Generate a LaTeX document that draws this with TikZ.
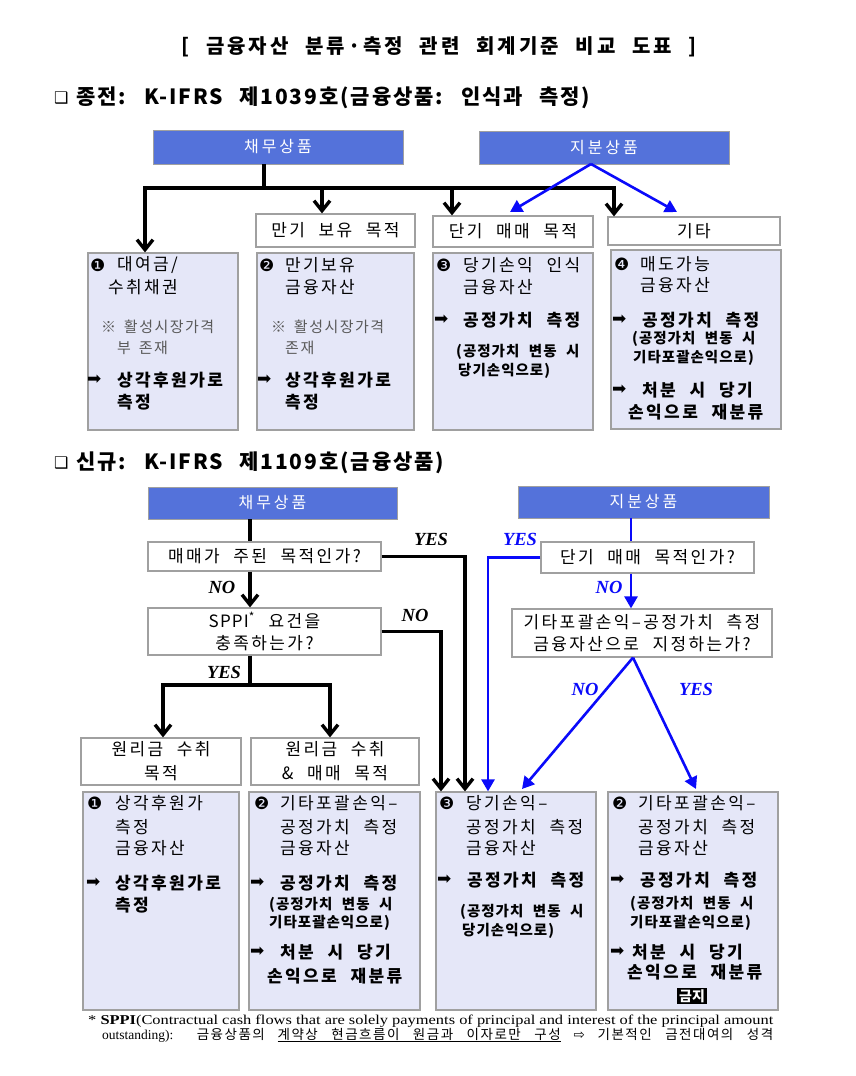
\documentclass[tikz,border=0pt]{standalone}
\usepackage{graphicx}
\usepackage{fontspec}
\setmainfont{Liberation Serif}
\newfontfamily\kr[WordSpace=2.5]{Noto Sans CJK KR}
\newfontfamily\krs[WordSpace=2.2,LetterSpace=14]{Noto Sans CJK KR}
\newfontfamily\krn[WordSpace=1.6,LetterSpace=10]{Noto Sans CJK KR}
\newfontfamily\krp[WordSpace=2.2,LetterSpace=7]{Noto Sans CJK KR}
\newfontfamily\krb[WordSpace=2.2,LetterSpace=18]{Noto Sans CJK KR}
\newfontfamily\krt[WordSpace=2.2,LetterSpace=15]{Noto Sans CJK KR}
\newfontfamily\krh[WordSpace=2.4,LetterSpace=9]{Noto Sans CJK KR}
\newfontfamily\krf[WordSpace=3,LetterSpace=11]{Noto Sans CJK KR}
\newfontfamily\dv{DejaVu Sans}
\newfontfamily\tm{Liberation Serif}
\usetikzlibrary{arrows.meta}
\definecolor{bfill}{RGB}{84,114,218}
\definecolor{lav}{RGB}{229,231,248}
\definecolor{bord}{RGB}{160,160,160}
\definecolor{ablue}{RGB}{10,10,250}
\tikzset{
  bluebox/.style={draw=bord, fill=bfill, text=white, inner sep=0, line width=0.8pt,
    font=\krb\fontsize{16}{19}\selectfont},
  lbox/.style={draw=bord, fill=white, inner sep=0, line width=1.2pt, align=center,
    font=\krs\fontsize{17}{22}\selectfont},
  cbox/.style={draw=bord, fill=lav, inner sep=0, line width=1.2pt},
  t/.style={anchor=west, inner sep=0, font=\krs\fontsize{17}{19}\selectfont},
  tb/.style={anchor=west, inner sep=0, font=\krs\bfseries\fontsize{17}{19}\selectfont},
  tp/.style={anchor=west, inner sep=0, font=\krp\bfseries\fontsize{14.5}{16}\selectfont},
  tn/.style={anchor=west, inner sep=0, text=black!65, font=\krn\fontsize{15}{18}\selectfont},
  sy/.style={anchor=west, inner sep=0, font=\dv\fontsize{17}{19}\selectfont},
  yn/.style={inner sep=0, font=\tm\bfseries\itshape\fontsize{18.5}{20}\selectfont},
  bl/.style={line width=3.4pt},
  barrow/.style={bl, -{Straight Barb[length=10pt,width=16pt]}},
  blu/.style={draw=ablue, line width=2.6pt},
  bluarrow/.style={blu, -{Triangle[length=12pt,width=13pt]}},
}
\begin{document}
\begin{tikzpicture}[x=1pt,y=-1pt]
\useasboundingbox (0,0) rectangle (856,1076);
\fill[white] (0,0) rectangle (856,1076);

% titles
\node[inner sep=0, font=\krt\bfseries\fontsize{20}{23}\selectfont] (title) at (439,47) {[ 금융자산 분류·측정 관련 회계기준 비교 도표 ]};
\node[sy, font=\dv\fontsize{16}{18}\selectfont] (h1s) at (54,98) {❑};
\node[anchor=west, inner sep=0, font=\krh\bfseries\fontsize{21}{24}\selectfont] (h1) at (76,98) {종전: K-IFRS 제1039호(금융상품: 인식과 측정)};
\node[sy, font=\dv\fontsize{16}{18}\selectfont] (h2s) at (54,463) {❑};
\node[anchor=west, inner sep=0, font=\krh\bfseries\fontsize{21}{24}\selectfont] (h2) at (76,463) {신규: K-IFRS 제1109호(금융상품)};

% ===== top section =====
\node[bluebox, minimum width=250pt, minimum height=34pt] (D1) at (278,147) {채무상품};
\node[bluebox, minimum width=250pt, minimum height=33pt] (E1) at (604,147.5) {지분상품};
\node[lbox, minimum width=159pt, minimum height=33pt] (L2) at (335.5,230.5) {만기 보유 목적};
\node[lbox, minimum width=160pt, minimum height=31pt] (L3) at (513,231.5) {단기 매매 목적};
\node[lbox, minimum width=172pt, minimum height=28pt] (L4) at (694,231) {기타};
\node[cbox, minimum width=150pt, minimum height=177pt] (C1) at (163,341.5) {};
\node[cbox, minimum width=157pt, minimum height=177pt] (C2) at (335.5,341.5) {};
\node[cbox, minimum width=160pt, minimum height=177pt] (C3) at (513,341.5) {};
\node[cbox, minimum width=170pt, minimum height=179pt] (C4) at (696,339.5) {};

\coordinate (tj) at (264,188);
\coordinate (tl) at (145,188);
\coordinate (tr) at (614,188);
\coordinate (a2) at (322,188);
\coordinate (a3) at (452,188);
\draw[bl] (D1.south -| tj) -- (tj);
\draw[barrow] (tr) -- (tl) -- (tl |- C1.north);
\draw[barrow] (tl) -- (tr) -- (tr |- L4.north);
\draw[barrow] (a2) -- (a2 |- L2.north);
\draw[barrow] (a3) -- (a3 |- L3.north);
\coordinate (es) at (591,164);
\coordinate (b3) at (510,212);
\coordinate (b4) at (677,212);
\draw[bluarrow] (es) -- (b3);
\draw[bluarrow] (es) -- (b4);

% C1 text
\node[sy] (c1s) at (90,265) {❶};
\node[t] (c1a) at (117,265) {대여금/};
\node[t] (c1b) at (108,287) {수취채권};
\node[tn] (c1c) at (101,327) {※ 활성시장가격};
\node[tn] (c1d) at (117,348) {부 존재};
\node[sy] (c1e) at (87,380) {➡};
\node[tb] (c1f) at (117,380) {상각후원가로};
\node[tb] (c1g) at (117,402) {측정};
% C2 text
\node[sy] (c2s) at (259,265) {❷};
\node[t] (c2a) at (285,265) {만기보유};
\node[t] (c2b) at (285,287) {금융자산};
\node[tn] (c2c) at (271,327) {※ 활성시장가격};
\node[tn] (c2d) at (285,348) {존재};
\node[sy] (c2e) at (257,380) {➡};
\node[tb] (c2f) at (285,380) {상각후원가로};
\node[tb] (c2g) at (285,402) {측정};
% C3 text
\node[sy] (c3s) at (436,265) {❸};
\node[t] (c3a) at (463,265) {당기손익 인식};
\node[t] (c3b) at (463,287) {금융자산};
\node[sy] (c3e) at (434,320) {➡};
\node[tb] (c3f) at (463,320) {공정가치 측정};
\node[tp] (c3g) at (456,352) {(공정가치 변동 시};
\node[tp] (c3h) at (458,371) {당기손익으로)};
% C4 text
\node[sy] (c4s) at (614,264) {❹};
\node[t] (c4a) at (640,264) {매도가능};
\node[t] (c4b) at (640,285) {금융자산};
\node[sy] (c4e) at (612,320) {➡};
\node[tb] (c4f) at (642,320) {공정가치 측정};
\node[tp] (c4g) at (632,339) {(공정가치 변동 시};
\node[tp] (c4h) at (633,358) {기타포괄손익으로)};
\node[sy] (c4i) at (612,390) {➡};
\node[tb] (c4j) at (642,390) {처분 시 당기};
\node[tb] (c4k) at (628,412) {손익으로 재분류};

% ===== bottom section =====
\node[bluebox, minimum width=249pt, minimum height=32pt] (D2) at (272.5,503) {채무상품};
\node[bluebox, minimum width=251pt, minimum height=32pt] (E2) at (643.5,502) {지분상품};
\node[lbox, minimum width=233pt, minimum height=29pt] (Q1) at (264.5,556.5) {매매가 주된 목적인가?};
\node[lbox, minimum width=233pt, minimum height=47pt] (Q2) at (264.5,631.5) {{\krp SPPI\textsuperscript{*}} 요건을\\충족하는가?};
\node[lbox, minimum width=213pt, minimum height=31pt] (Q3) at (647.5,557.5) {단기 매매 목적인가?};
\node[lbox, minimum width=260pt, minimum height=48pt] (Q4) at (642,633) {기타포괄손익–공정가치 측정\\금융자산으로 지정하는가?};
\node[lbox, minimum width=160pt, minimum height=47pt, font=\krs\fontsize{17}{24}\selectfont] (L5) at (161,761.5) {원리금 수취\\목적};
\node[lbox, minimum width=168pt, minimum height=47pt, font=\krs\fontsize{17}{24}\selectfont] (L6) at (335,761.5) {원리금 수취\\\& 매매 목적};
\node[cbox, minimum width=156pt, minimum height=218pt] (C5) at (161,901) {};
\node[cbox, minimum width=171pt, minimum height=218pt] (C6) at (334.5,901) {};
\node[cbox, minimum width=160pt, minimum height=218pt] (C7) at (516,901) {};
\node[cbox, minimum width=170pt, minimum height=218pt] (C8) at (693,901) {};

% black connectors
\coordinate (v1) at (250,0);
\coordinate (y1) at (465,0);
\coordinate (n1) at (441,0);
\coordinate (s1) at (250,685);
\coordinate (s5) at (163,685);
\coordinate (s6) at (330,685);
\draw[bl] (D2.south -| v1) -- (Q1.north -| v1);
\draw[barrow] (Q1.south -| v1) -- (Q2.north -| v1);
\draw[barrow] (Q1.east) -- (Q1.east -| y1) -- (C7.north -| y1);
\draw[barrow] (Q2.east) -- (Q2.east -| n1) -- (C7.north -| n1);
\draw[bl] (Q2.south -| v1) -- (s1);
\draw[barrow] (s1) -- (s5) -- (s5 |- L5.north);
\draw[barrow] (s1) -- (s6) -- (s6 |- L6.north);
\node[yn] (lyes1) at (431,539) {YES};
\node[yn] (lno1) at (222,587) {NO};
\node[yn] (lno2) at (415,615) {NO};
\node[yn] (lyes2) at (224,672) {YES};

% blue connectors
\coordinate (v2) at (631,0);
\coordinate (y2) at (488,0);
\coordinate (v3) at (633,0);
\coordinate (n3) at (522,789);
\coordinate (y3) at (696,789);
\draw[blu] (E2.south -| v2) -- (Q3.north -| v2);
\draw[bluarrow] (Q3.south -| v2) -- (Q4.north -| v2);
\draw[bluarrow] (Q3.west) -- (Q3.west -| y2) -- (C7.north -| y2);
\draw[bluarrow] (Q4.south -| v3) -- (n3);
\draw[bluarrow] (Q4.south -| v3) -- (y3);
\node[yn, text=ablue] (byes1) at (520,539) {YES};
\node[yn, text=ablue] (bno1) at (609,587) {NO};
\node[yn, text=ablue] (bno2) at (585,689) {NO};
\node[yn, text=ablue] (byes2) at (696,689) {YES};

% C5 text
\node[sy] (c5s) at (87,803) {❶};
\node[t] (c5a) at (115,803) {상각후원가};
\node[t] (c5b) at (115,827) {측정};
\node[t] (c5c) at (115,848) {금융자산};
\node[sy] (c5e) at (86,883) {➡};
\node[tb] (c5f) at (115,883) {상각후원가로};
\node[tb] (c5g) at (115,905) {측정};
% C6 text
\node[sy] (c6s) at (254,803) {❷};
\node[t] (c6a) at (280,803) {기타포괄손익–};
\node[t] (c6b) at (280,827) {공정가치 측정};
\node[t] (c6c) at (280,848) {금융자산};
\node[sy] (c6e) at (250,883) {➡};
\node[tb] (c6f) at (280,883) {공정가치 측정};
\node[tp] (c6g) at (269,905) {(공정가치 변동 시};
\node[tp] (c6h) at (269,923) {기타포괄손익으로)};
\node[sy] (c6i) at (250,952) {➡};
\node[tb] (c6j) at (280,952) {처분 시 당기};
\node[tb] (c6k) at (267,976) {손익으로 재분류};
% C7 text
\node[sy] (c7s) at (439,803) {❸};
\node[t] (c7a) at (466,803) {당기손익–};
\node[t] (c7b) at (466,827) {공정가치 측정};
\node[t] (c7c) at (466,848) {금융자산};
\node[sy] (c7e) at (437,880) {➡};
\node[tb] (c7f) at (467,880) {공정가치 측정};
\node[tp] (c7g) at (460,912) {(공정가치 변동 시};
\node[tp] (c7h) at (462,931) {당기손익으로)};
% C8 text
\node[sy] (c8s) at (612,803) {❷};
\node[t] (c8a) at (638,803) {기타포괄손익–};
\node[t] (c8b) at (638,827) {공정가치 측정};
\node[t] (c8c) at (638,848) {금융자산};
\node[sy] (c8e) at (610,880) {➡};
\node[tb] (c8f) at (640,880) {공정가치 측정};
\node[tp] (c8g) at (630,904) {(공정가치 변동 시};
\node[tp] (c8h) at (630,923) {기타포괄손익으로)};
\node[sy] (c8i) at (610,952) {➡};
\node[tb] (c8j) at (632,952) {처분 시 당기};
\node[tb] (c8k) at (627,972) {손익으로 재분류};
\node[fill=black, text=white, inner xsep=2pt, inner ysep=1pt, font=\kr\bfseries\fontsize{14}{16}\selectfont] (ban) at (692,996) {금지};

% footnote
\node[anchor=west, inner sep=0, font=\fontsize{13.5}{15}\selectfont] (f1) at (88,1021)
  {\resizebox{685pt}{\height}{* \textbf{SPPI}(Contractual cash flows that are solely payments of principal and interest of the principal amount}};
\node[anchor=west, inner sep=0, font=\fontsize{13.5}{15}\selectfont] (f2) at (102,1035)
  {\makebox[671pt][s]{outstanding): \mbox{\krf\fontsize{13.5}{15}\selectfont 금융상품의} \mbox{\krf\fontsize{13.5}{15}\selectfont\underline{계약상 현금흐름이 원금과 이자로만 구성}} \mbox{\dv\fontsize{13.5}{15}\selectfont ⇨} \mbox{\krf\fontsize{13.5}{15}\selectfont 기본적인 금전대여의 성격}}};
\end{tikzpicture}
\end{document}
